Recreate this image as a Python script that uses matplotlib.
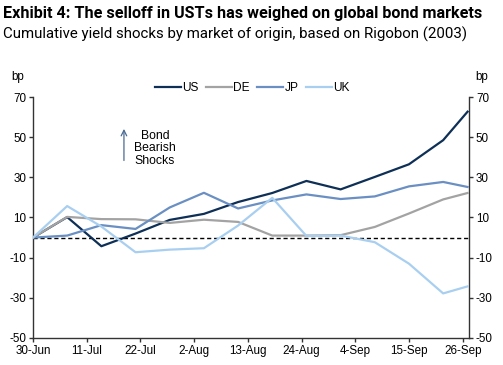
import matplotlib
matplotlib.use("Agg")
import matplotlib.pyplot as plt
import matplotlib.dates as mdates
import pandas as pd
import numpy as np

dates = pd.to_datetime([
    "2023-06-30", "2023-07-07", "2023-07-14", "2023-07-21", "2023-07-28",
    "2023-08-04", "2023-08-11", "2023-08-18", "2023-08-25", "2023-09-01",
    "2023-09-08", "2023-09-15", "2023-09-22", "2023-09-27"])
us = [0, 10.2, -4.3, 2, 8.8, 11.8, 17.7, 22.2, 28.2, 24, 30.2, 36.5, 48.5, 62.7]
de = [0, 10.3, 9.2, 9.1, 7.3, 8.9, 7.8, 1, 1, 1.2, 5.3, 12, 19, 22.2]
jp = [0, 1, 6.2, 4.3, 15, 22.3, 14.5, 18.5, 21.5, 19.2, 20.5, 25.5, 27.7, 25.2]
uk = [0, 15.7, 5.5, -7.3, -6, -5.3, 6, 19.8, 0.8, 1, -2.3, -13, -27.8, -24.3]

tick_labels_y = [-50, -30, -10, 10, 30, 50, 70]
tick_dates = pd.date_range("2023-06-30", periods=9, freq="11D")

title = "Exhibit 4: The selloff in USTs has weighed on global bond markets"
subtitle = "Cumulative yield shocks by market of origin, based on Rigobon (2003)"

colors = {"US": "#0e2f56", "DE": "#a3a3a3", "JP": "#6a8fc2", "UK": "#a9cff0"}

plt.rcParams["font.family"] = ["Liberation Sans", "DejaVu Sans"]
plt.rcParams["axes.unicode_minus"] = False

fig = plt.figure(figsize=(5.03, 3.65), dpi=100)
ax = fig.add_axes([33 / 503, 27 / 365, 436 / 503, 241 / 365])

for name, vals in [("US", us), ("DE", de), ("JP", jp), ("UK", uk)]:
    ax.plot(dates, vals, color=colors[name], lw=1.6, label=name, zorder=3)

ax.axhline(0, color="black", lw=1.0, ls=(0, (3, 2)), zorder=2)

ax.set_ylim(-50, 70)
ax.set_yticks(tick_labels_y)
ax.set_xlim(pd.Timestamp("2023-06-30"), pd.Timestamp("2023-09-27 07:00"))
ax.set_xticks(tick_dates)
ax.xaxis.set_major_formatter(mdates.DateFormatter("%-d-%b"))

ax.spines["top"].set_visible(False)
for s in ["left", "right", "bottom"]:
    ax.spines[s].set_color("#333333")
    ax.spines[s].set_linewidth(1.0)

ax.tick_params(axis="both", direction="out", length=3, width=1, color="#333333",
               labelsize=8.4, pad=2)
ax.tick_params(axis="y", labelright=True, right=True)

ax.text(-0.035, 1.07, "bp", transform=ax.transAxes, fontsize=8.4, ha="center")
ax.text(1.028, 1.07, "bp", transform=ax.transAxes, fontsize=8.4, ha="center")

leg = ax.legend(loc="upper center", bbox_to_anchor=(0.503, 1.08), ncol=4,
                frameon=False, fontsize=8.6, handlelength=2.2, handletextpad=0.1,
                columnspacing=0.6, borderaxespad=0)

ax.annotate("", xy=(pd.Timestamp("2023-07-18 15:00"), 55.5),
            xytext=(pd.Timestamp("2023-07-18 15:00"), 37.0),
            arrowprops=dict(arrowstyle="->", color="#4a6a95", lw=0.9))
ax.text(pd.Timestamp("2023-07-25"), 44.5, "Bond\nBearish\nShocks", ha="center",
        va="center", fontsize=8.8, linespacing=1.05)

t1 = fig.text(0.006, 0.963, title, fontsize=12.5, fontweight="bold",
              family=["Roboto", "DejaVu Sans"], va="center", ha="left")
t2 = fig.text(0.006, 0.905, subtitle, fontsize=11.5,
              family=["Roboto", "DejaVu Sans"], va="center", ha="left")

# fit title widths to the reference's widths
fig.canvas.draw()
r = fig.canvas.get_renderer()
for t, target in [(t1, 481), (t2, 468)]:
    w = t.get_window_extent(r).width
    t.set_fontsize(t.get_fontsize() * target / w)

fig.savefig("out.png", dpi=100)
